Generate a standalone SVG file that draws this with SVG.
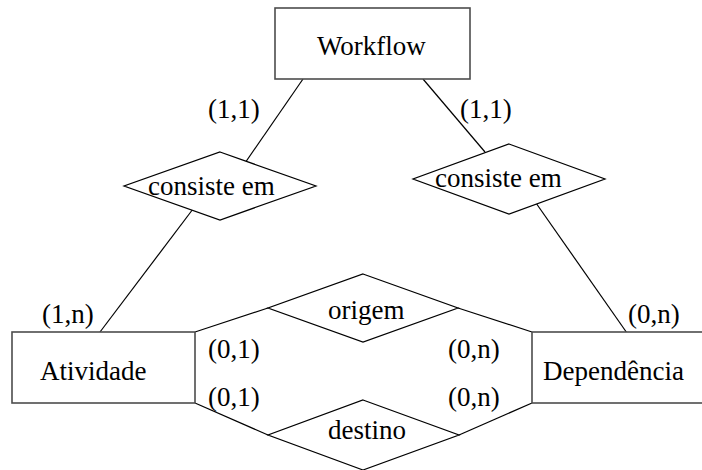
<svg xmlns="http://www.w3.org/2000/svg" width="702" height="470" viewBox="0 0 702 470">
  <style>
    .entity { fill: #ffffff; stroke: #4d4d4d; stroke-width: 1.6; }
    .rel { fill: #ffffff; stroke: #000000; stroke-width: 1.2; }
    .link { stroke: #000000; stroke-width: 1.2; fill: none; }
    text { font-family: 'Liberation Serif', 'Times New Roman', Times, 'Nimbus Roman', 'Nimbus Roman No9 L', 'Noto Serif', 'DejaVu Serif', FreeSerif, Tinos, serif; font-size: 27px; fill: #000000; }
  </style>
  <rect width="702" height="470" fill="#ffffff"/>

  <!-- connectors -->
  <g id="connectors">
    <line class="link" x1="303" y1="79" x2="245" y2="163"/>
    <line class="link" x1="423" y1="79" x2="485" y2="152"/>
    <line class="link" x1="193" y1="209" x2="100" y2="332"/>
    <line class="link" x1="536" y1="203" x2="627" y2="333"/>
    <line class="link" x1="195" y1="332" x2="268" y2="308"/>
    <line class="link" x1="458" y1="308" x2="532" y2="332"/>
    <line class="link" x1="195" y1="403" x2="268" y2="435"/>
    <line class="link" x1="459" y1="435" x2="532" y2="403"/>
  </g>

  <!-- entities -->
  <g id="workflow">
    <rect class="entity" x="275" y="8" width="195" height="71"/>
    <text x="317" y="55">Workflow</text>
  </g>
  <g id="atividade">
    <rect class="entity" x="12" y="332" width="183" height="71"/>
    <text x="40" y="380">Atividade</text>
  </g>
  <g id="dependencia">
    <rect class="entity" x="532" y="332" width="180" height="71"/>
    <text x="543" y="380">Dependência</text>
  </g>

  <!-- relationships -->
  <g id="consiste-atividade">
    <polygon class="rel" points="220,152 316,186 220,220 124,186"/>
    <text x="148" y="195">consiste em</text>
  </g>
  <g id="consiste-dependencia">
    <polygon class="rel" points="509,144 605,179 509,214 413,179"/>
    <text x="435" y="187">consiste em</text>
  </g>
  <g id="origem">
    <polygon class="rel" points="363,274 458,308 363,342 268,308"/>
    <text x="328" y="319">origem</text>
  </g>
  <g id="destino">
    <polygon class="rel" points="363,400 459,435 363,470 268,435"/>
    <text x="328" y="439">destino</text>
  </g>

  <!-- cardinalities -->
  <g id="cardinalities">
    <text x="208" y="118">(1,1)</text>
    <text x="460" y="118">(1,1)</text>
    <text x="42" y="323">(1,n)</text>
    <text x="628" y="323">(0,n)</text>
    <text x="208" y="358">(0,1)</text>
    <text x="208" y="406">(0,1)</text>
    <text x="448" y="358">(0,n)</text>
    <text x="448" y="406">(0,n)</text>
  </g>
</svg>
